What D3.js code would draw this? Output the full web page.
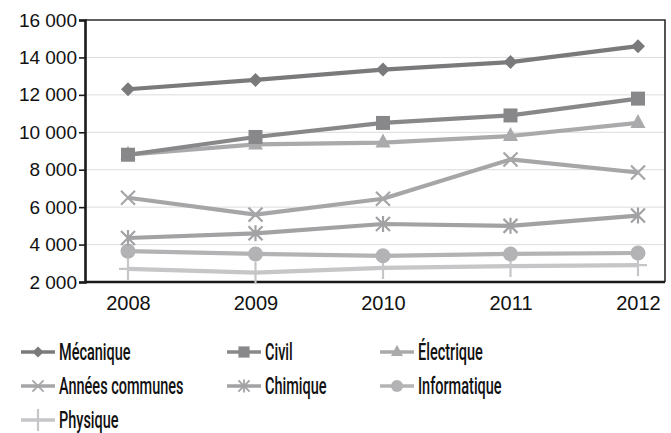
<!DOCTYPE html>
<html>
<head>
<meta charset="utf-8">
<script src="https://cdn.jsdelivr.net/npm/d3@7/dist/d3.min.js"></script>
<style>
  html, body { margin: 0; padding: 0; background: #fff; }
  svg { display: block; }
</style>
</head>
<body>
<svg id="chart" width="671" height="433"></svg>
<script>
// Student enrolment by engineering department, 2008–2012
const years = ["2008", "2009", "2010", "2011", "2012"];
const yTicks = [2000, 4000, 6000, 8000, 10000, 12000, 14000, 16000];

const mecanique    = [12300, 12800, 13350, 13750, 14600];
const civil        = [8800, 9750, 10500, 10900, 11800];
const electrique   = [8800, 9350, 9450, 9800, 10500];
const anneesCommunes = [6500, 5600, 6450, 8550, 7850];
const chimique     = [4350, 4600, 5100, 5000, 5550];
const informatique = [3650, 3500, 3400, 3500, 3550];
const physique     = [2700, 2500, 2750, 2850, 2900];

const seriesNames = ["Mécanique", "Civil", "Électrique", "Années communes", "Chimique", "Informatique", "Physique"];
const seriesValues = [mecanique, civil, electrique, anneesCommunes, chimique, informatique, physique];

const styles = [
  { color: "#7a7a7c", marker: "diamond" },
  { color: "#88888a", marker: "square" },
  { color: "#aaaaac", marker: "triangle" },
  { color: "#a6a6a8", marker: "cross" },
  { color: "#a2a2a4", marker: "star" },
  { color: "#b3b3b5", marker: "circle" },
  { color: "#c6c6c8", marker: "plus" }
];

const svg = d3.select("#chart");
const plot = { left: 85, right: 665, top: 20, bottom: 282 };

const x = d3.scalePoint().domain(years).range([128, 638]);
const y = d3.scaleLinear().domain([2000, 16000]).range([plot.bottom, plot.top]);

// gridlines
svg.append("g")
  .selectAll("line")
  .data(yTicks.slice(1, -1))
  .join("line")
  .attr("x1", plot.left).attr("x2", plot.right)
  .attr("y1", d => y(d)).attr("y2", d => y(d))
  .attr("stroke", "#dcdcdc").attr("stroke-width", 1);

// frame (top & right)
svg.append("path")
  .attr("d", `M${plot.left},${plot.top}H${plot.right}V${plot.bottom}`)
  .attr("fill", "none").attr("stroke", "#2a2a2a").attr("stroke-width", 1.6);

// y axis
const yAxis = svg.append("g")
  .attr("transform", `translate(${plot.left},0)`)
  .call(d3.axisLeft(y).tickValues(yTicks).tickSize(6).tickPadding(2)
    .tickFormat(d => d3.format(",")(d).replace(/,/g, " ")));
yAxis.select(".domain").attr("stroke", "#1a1a1a").attr("stroke-width", 2.6);
yAxis.selectAll(".tick line").attr("stroke", "#1a1a1a").attr("stroke-width", 1.6);
yAxis.selectAll("text")
  .attr("font-family", "'Liberation Sans', Arial, sans-serif")
  .attr("font-size", 19).attr("fill", "#111");

// x axis
const xAxis = svg.append("g")
  .attr("transform", `translate(0,${plot.bottom})`)
  .call(d3.axisBottom(x).tickSize(0).tickPadding(14));
xAxis.select(".domain").attr("d", `M${plot.left},0H${plot.right}`)
  .attr("stroke", "#1a1a1a").attr("stroke-width", 2.6);
xAxis.selectAll("text")
  .attr("font-family", "'Liberation Sans', Arial, sans-serif")
  .attr("font-size", 20).attr("fill", "#111");

function drawMarker(g, type, color) {
  switch (type) {
    case "diamond":
      g.append("path").attr("d", "M0,-7L7,0L0,7L-7,0Z").attr("fill", color);
      break;
    case "square":
      g.append("rect").attr("x", -7).attr("y", -7).attr("width", 14).attr("height", 14).attr("fill", color);
      break;
    case "triangle":
      g.append("path").attr("d", "M0,-9L7.5,5L-7.5,5Z").attr("fill", color);
      break;
    case "circle":
      g.append("circle").attr("r", 7.5).attr("fill", color);
      break;
    case "cross":
      g.append("path").attr("d", "M-7,-7L7,7M-7,7L7,-7").attr("stroke", color).attr("stroke-width", 2.2);
      break;
    case "star":
      g.append("path").attr("d", "M-7,-7L7,7M-7,7L7,-7M0,-8V8").attr("stroke", color).attr("stroke-width", 2.2);
      break;
    case "plus":
      g.append("path").attr("d", "M0,-11V11M-9,0H9").attr("stroke", color).attr("stroke-width", 2.2);
      break;
  }
}

const line = d3.line().x((d, i) => x(years[i])).y(d => y(d));

// draw bottom series first so upper ones sit on top
for (let s = seriesValues.length - 1; s >= 0; s--) {
  const vals = seriesValues[s];
  const st = styles[s];
  const g = svg.append("g");
  g.append("path").datum(vals)
    .attr("d", line).attr("fill", "none")
    .attr("stroke", st.color).attr("stroke-width", 4.2)
    .attr("stroke-linejoin", "round");
  vals.forEach((v, i) => {
    const m = g.append("g").attr("transform", `translate(${x(years[i])},${y(v)})`);
    drawMarker(m, st.marker, st.color);
  });
}

// legend: three columns, condensed labels
const legCols = [21, 227, 380];
const legRows = [352, 386, 420];
const legend = svg.append("g");
seriesNames.forEach((name, i) => {
  const col = i % 3, row = Math.floor(i / 3);
  const lx = legCols[col], ly = legRows[row];
  const g = legend.append("g").attr("transform", `translate(${lx},${ly})`);
  g.append("line").attr("x1", 0).attr("x2", 34).attr("y1", 0).attr("y2", 0)
    .attr("stroke", styles[i].color).attr("stroke-width", 3.6);
  const sc = styles[i].marker === "plus" ? 1 : 0.8;
  const m = g.append("g").attr("transform", `translate(17,0) scale(${sc})`);
  drawMarker(m, styles[i].marker, styles[i].color);
  g.append("text")
    .attr("transform", "translate(38,0) scale(0.63,1)")
    .attr("dy", "0.36em")
    .attr("font-family", "Roboto, 'Liberation Sans', sans-serif")
    .attr("font-weight", 500)
    .attr("font-size", 23).attr("fill", "#111")
    .text(name);
});
</script>
</body>
</html>
